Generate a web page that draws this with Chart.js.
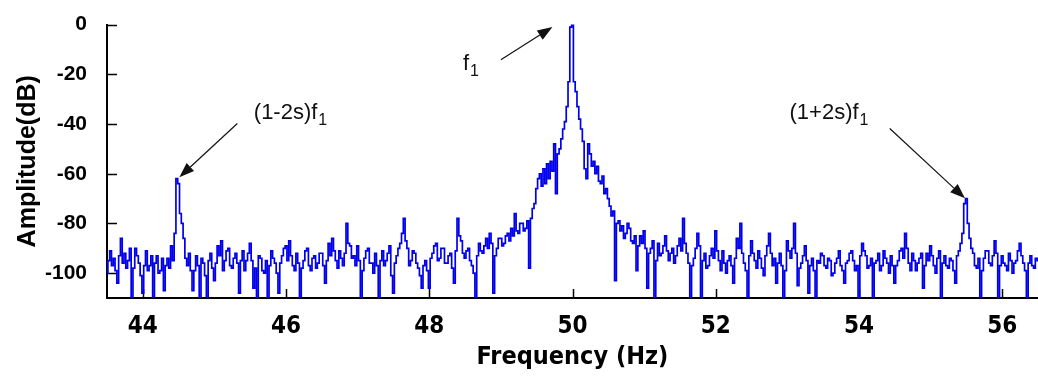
<!DOCTYPE html>
<html>
<head>
<meta charset="utf-8">
<script src="https://cdn.jsdelivr.net/npm/chart.js@4/dist/chart.umd.min.js"></script>
<style>
html, body { margin: 0; padding: 0; background: #fff; }
</style>
</head>
<body>
<canvas id="espectro" width="1038" height="385"></canvas>
<script>
//Datos del espectro (paso de 0.025 Hz desde 43.5 Hz)
const freqInicio = 43.5;
const freqPaso = 0.025;
const amplitudDB = [
  // 43.50 - 44.475
  -100, -95, -91, -97, -94, -99, -104, -93, -86, -96, -92, -98, -95, -90, -110, -98, -90, -93, -96, -101,
  -108, -97, -91, -99, -97, -93, -110, -96, -93, -100, -99, -94, -107, -97, -94, -98, -89, -95, -84, -62,
  // 44.50 - 45.475
  -64, -76, -80, -86, -94, -97, -92, -99, -107, -99, -93, -97, -110, -94, -96, -101, -110, -95, -92, -98,
  -103, -96, -89, -93, -87, -99, -95, -91, -90, -97, -98, -94, -92, -96, -108, -95, -91, -99, -95, -92,
  // 45.50 - 46.475
  -88, -95, -106, -98, -110, -93, -94, -99, -100, -95, -110, -97, -91, -94, -96, -100, -108, -96, -93, -90,
  -89, -95, -87, -93, -97, -99, -92, -96, -110, -98, -95, -91, -90, -97, -99, -94, -93, -98, -96, -92,
  // 46.50 - 47.475
  -92, -97, -104, -95, -88, -93, -86, -91, -95, -98, -91, -94, -97, -92, -80, -88, -89, -94, -93, -97,
  -89, -95, -110, -99, -94, -91, -90, -96, -96, -100, -92, -97, -110, -95, -91, -97, -95, -92, -89, -101,
  // 47.50 - 48.475
  -108, -96, -93, -90, -88, -84, -78, -87, -90, -97, -95, -91, -92, -96, -98, -101, -106, -97, -95, -99,
  -106, -94, -92, -89, -88, -95, -94, -90, -90, -96, -96, -93, -92, -98, -104, -91, -78, -85, -87, -92,
  // 48.50 - 49.475
  -94, -91, -90, -95, -97, -100, -110, -93, -88, -91, -92, -89, -86, -90, -84, -88, -108, -93, -90, -86,
  -86, -89, -88, -85, -84, -87, -82, -85, -76, -83, -84, -80, -80, -83, -82, -79, -98, -78, -74, -72,
  // 49.50 - 50.475
  -66, -62, -60, -65, -58, -64, -56, -62, -55, -59, -48, -68, -52, -50, -46, -42, -39, -33, -23, -1,
  0, -23, -27, -33, -38, -42, -47, -58, -62, -48, -52, -57, -55, -60, -57, -63, -64, -61, -68, -66,
  // 50.50 - 51.475
  -70, -73, -77, -75, -103, -80, -79, -83, -81, -86, -84, -80, -82, -87, -88, -85, -99, -89, -85, -88,
  -83, -90, -106, -92, -90, -87, -110, -95, -88, -93, -92, -89, -85, -91, -95, -92, -90, -96, -93, -89,
  // 51.50 - 52.475
  -86, -91, -78, -88, -92, -96, -110, -97, -94, -90, -84, -89, -110, -95, -92, -98, -97, -93, -90, -94,
  -83, -91, -95, -99, -91, -96, -100, -95, -93, -97, -104, -94, -86, -90, -80, -92, -96, -99, -110, -93,
  // 52.50 - 53.475
  -87, -92, -95, -98, -91, -94, -98, -101, -93, -89, -84, -92, -97, -94, -104, -96, -92, -97, -110, -99,
  -87, -91, -94, -90, -80, -92, -105, -98, -96, -93, -89, -95, -108, -97, -94, -99, -110, -95, -96, -92,
  // 53.50 - 54.475
  -93, -97, -98, -94, -95, -101, -100, -96, -94, -91, -97, -99, -104, -96, -95, -92, -91, -95, -99, -97,
  -110, -93, -88, -91, -93, -98, -97, -94, -110, -96, -95, -92, -99, -97, -91, -94, -96, -100, -93, -97,
  // 54.50 - 55.475
  -104, -97, -95, -91, -90, -94, -84, -90, -96, -99, -92, -95, -99, -96, -94, -92, -106, -97, -92, -95,
  -89, -93, -97, -100, -94, -91, -110, -96, -93, -97, -98, -94, -95, -99, -104, -93, -91, -88, -84, -72,
  // 55.50 - 56.50
  -70, -80, -86, -90, -92, -97, -98, -94, -110, -99, -94, -91, -91, -96, -97, -93, -87, -92, -110, -97,
  -93, -96, -97, -99, -92, -95, -100, -96, -95, -91, -88, -93, -96, -99, -110, -96, -93, -97, -98, -94,
  -95
];
const xTicks = [44, 46, 48, 50, 52, 54, 56];
const yTicks = [-100, -80, -60, -40, -20, 0];

//Anotaciones (texto, subindice y flecha en unidades del grafico)
const notas = [
  { texto: '(1-2s)f', sub: '1', tx: 45.55, ty: -37.8, desde: [45.32, -39.8], hasta: [44.51, -61.4] },
  { texto: 'f', sub: '1', tx: 48.47, ty: -18.2, desde: [49.0, -14.1], hasta: [49.72, -1.0] },
  { texto: '(1+2s)f', sub: '1', tx: 53.03, ty: -37.8, desde: [54.43, -41.8], hasta: [55.48, -69.9] }
];

const puntos = amplitudDB.map((v, i) => ({ x: +(freqInicio + i * freqPaso).toFixed(3), y: v }));

//Ticks hacia adentro como en la figura original
const ticksInternos = {
  id: 'ticksInternos',
  beforeDatasetsDraw(chart) {
    const { ctx, chartArea, scales } = chart;
    ctx.save();
    ctx.strokeStyle = '#000';
    ctx.lineWidth = 1.5;
    ctx.beginPath();
    scales.x.ticks.forEach(t => {
      const px = Math.round(scales.x.getPixelForValue(t.value)) + 0.5;
      ctx.moveTo(px, chartArea.bottom);
      ctx.lineTo(px, chartArea.bottom - 9);
    });
    scales.y.ticks.forEach(t => {
      const py = Math.round(scales.y.getPixelForValue(t.value)) + 0.5;
      ctx.moveTo(chartArea.left, py);
      ctx.lineTo(chartArea.left + 10, py);
    });
    ctx.stroke();
    ctx.restore();
  }
};

const anotaciones = {
  id: 'anotaciones',
  afterDraw(chart) {
    const { ctx, scales } = chart;
    const X = v => scales.x.getPixelForValue(v);
    const Y = v => scales.y.getPixelForValue(v);
    ctx.save();
    ctx.fillStyle = '#111';
    ctx.strokeStyle = '#111';
    notas.forEach(n => {
      ctx.font = '22px "Liberation Sans", Arial, sans-serif';
      ctx.textBaseline = 'alphabetic';
      ctx.textAlign = 'left';
      const x0 = X(n.tx), y0 = Y(n.ty);
      ctx.fillText(n.texto, x0, y0);
      const w = ctx.measureText(n.texto).width;
      ctx.font = '16px "Liberation Sans", Arial, sans-serif';
      ctx.fillText(n.sub, x0 + w + 1, y0 + 6);

      const x1 = X(n.desde[0]), y1 = Y(n.desde[1]);
      const x2 = X(n.hasta[0]), y2 = Y(n.hasta[1]);
      const ang = Math.atan2(y2 - y1, x2 - x1);
      const largo = 15, ancho = 5.5;
      const bx = x2 - largo * Math.cos(ang), by = y2 - largo * Math.sin(ang);
      ctx.lineWidth = 1.2;
      ctx.beginPath();
      ctx.moveTo(x1, y1);
      ctx.lineTo(bx, by);
      ctx.stroke();
      ctx.beginPath();
      ctx.moveTo(x2, y2);
      ctx.lineTo(bx + ancho * Math.sin(ang), by - ancho * Math.cos(ang));
      ctx.lineTo(bx - ancho * Math.sin(ang), by + ancho * Math.cos(ang));
      ctx.closePath();
      ctx.fill();
    });
    ctx.restore();
  }
};

const espectro = document.getElementById('espectro');

new Chart(espectro, {
  type: 'line',
  data: {
    datasets: [{
      label: 'Amplitude',
      data: puntos,
      borderColor: 'rgb(0, 0, 235)',
      borderWidth: 1.7,
      pointRadius: 0,
      stepped: 'middle',
      fill: false
    }]
  },
  options: {
    responsive: false,
    animation: false,
    layout: { padding: { top: 17, right: 0, left: 0, bottom: 0 } },
    plugins: { legend: { display: false }, tooltip: { enabled: false } },
    scales: {
      x: {
        type: 'linear',
        min: 43.5,
        max: 56.5,
        afterBuildTicks: s => { s.ticks = xTicks.map(v => ({ value: v })); },
        afterFit: s => { s.height = 87; },
        grid: { display: false },
        border: { display: true, color: '#000', width: 2 },
        ticks: {
          color: '#000',
          padding: 6,
          maxRotation: 0,
          font: { family: '"Liberation Sans Narrow", "DejaVu Sans Condensed", sans-serif', size: 24, weight: 'bold' }
        },
        title: {
          display: true,
          text: 'Frequency (Hz)',
          color: '#000',
          padding: { top: 0, bottom: 13 },
          font: { family: '"Liberation Sans Narrow", "DejaVu Sans Condensed", sans-serif', size: 25, weight: 'bold' }
        }
      },
      y: {
        min: -110,
        max: 0,
        afterBuildTicks: s => { s.ticks = yTicks.map(v => ({ value: v })); },
        afterFit: s => { s.width = 107; },
        grid: { display: false },
        border: { display: true, color: '#000', width: 2 },
        ticks: {
          color: '#000',
          padding: 12,
          font: { family: '"Liberation Sans", Arial, sans-serif', size: 21, weight: 'bold' }
        },
        title: {
          display: true,
          text: 'Amplitude(dB)',
          color: '#000',
          padding: { top: 13, bottom: 0 },
          font: { family: '"Liberation Sans", Arial, sans-serif', size: 25, weight: 'bold' }
        }
      }
    }
  },
  plugins: [ticksInternos, anotaciones]
});
</script>
</body>
</html>
